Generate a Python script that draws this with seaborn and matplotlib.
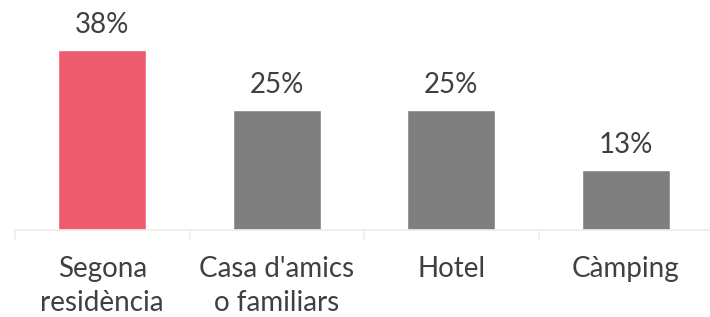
import matplotlib
matplotlib.use("Agg")
import matplotlib.pyplot as plt
import seaborn as sns

# Data
categories = ["Segona\nresidència", "Casa d'amics\no familiars", "Hotel", "Càmping"]
values = [37.5, 25, 25, 12.5]
labels = ["38%", "25%", "25%", "13%"]
colors = ["#EE5C6F", "#7F7F7F", "#7F7F7F", "#7F7F7F"]

sns.set_style("white")
plt.rcParams["font.family"] = ["Lato", "DejaVu Sans"]

fig = plt.figure(figsize=(7.10, 3.17), dpi=100)
ax = fig.add_axes([15 / 710, 87 / 317, 698 / 710, 192 / 317])

sns.barplot(x=categories, y=values, hue=categories, palette=colors,
            legend=False, width=0.504, saturation=1, ax=ax)

ax.set_xlim(-0.5, 3.5)
ax.set_ylim(0, 40)

# value labels
for i, (v, lab) in enumerate(zip(values, labels)):
    ax.annotate(lab, (i, v), xytext=(0, 12), textcoords="offset points",
                ha="center", va="baseline", fontsize=20, color="#404040",
                annotation_clip=False)

# axes styling
for s in ["top", "right", "left"]:
    ax.spines[s].set_visible(False)
ax.spines["bottom"].set_color("#F1ECE1")
ax.spines["bottom"].set_linewidth(1.2)
ax.set_yticks([])
ax.set_ylabel("")
ax.set_xlabel("")

ax.set_xticks(range(len(categories)))
ax.set_xticklabels(categories, fontsize=20, color="#404040", linespacing=1.35)
ax.tick_params(axis="x", which="major", length=0, pad=19)
ax.set_xticks([-0.5, 0.5, 1.5, 2.5, 3.5], minor=True)
ax.tick_params(axis="x", which="minor", bottom=True, length=7, width=1.2,
               color="#F1ECE1")

fig.savefig("out.png", dpi=100)
